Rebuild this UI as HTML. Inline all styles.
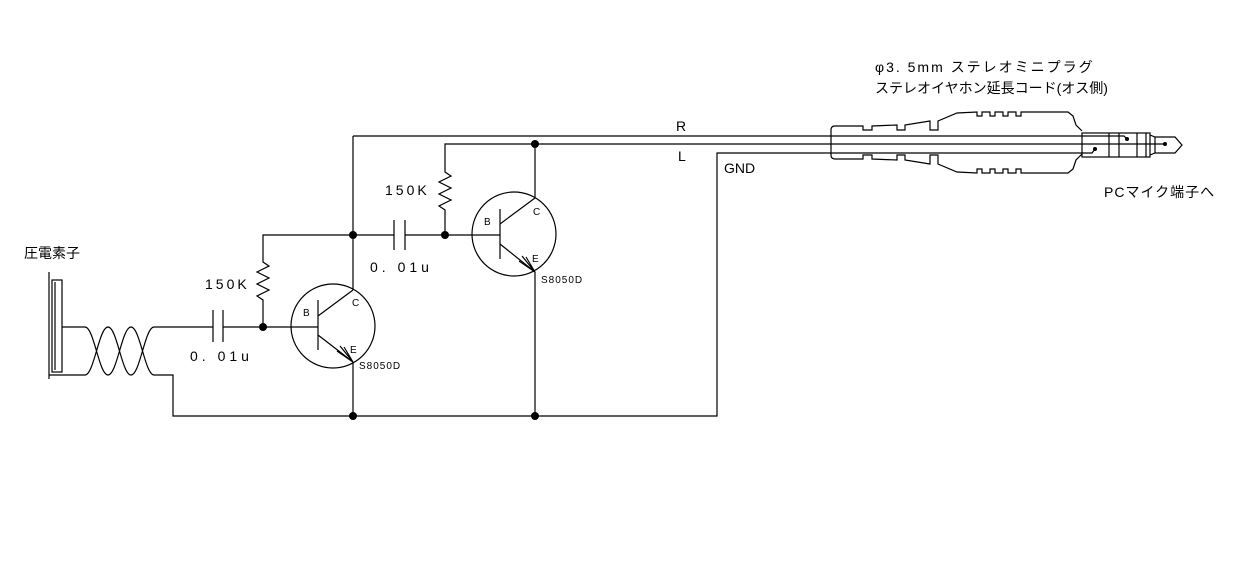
<!DOCTYPE html>
<html><head><meta charset="utf-8"><style>
html,body{margin:0;padding:0;background:#fff;}
svg{display:block;}
text{font-family:"Liberation Sans","Noto Sans CJK JP",sans-serif;fill:#000;}
</style></head><body>
<svg width="1242" height="568" viewBox="0 0 1242 568" xmlns="http://www.w3.org/2000/svg">
<g fill="none" stroke="#000" stroke-width="1.2">
<!-- piezo -->
<line x1="49" y1="272" x2="49" y2="379"/>
<rect x="52" y="280" width="10" height="92"/>
<line x1="55" y1="282" x2="55" y2="370"/>
<line x1="62" y1="327" x2="85" y2="327"/>
<line x1="49" y1="375" x2="85" y2="375"/>
<!-- twisted pair -->
<path d="M85 327 C94 327 99 375 108 375 C117 375 122 327 131 327 C140 327 145 375 154 375"/>
<path d="M85 375 C94 375 99 327 108 327 C117 327 122 375 131 375 C140 375 145 327 154 327"/>
<line x1="154" y1="327" x2="213" y2="327"/>
<polyline points="154,375 173,375 173,416 717,416 717,153 1082,153"/>
<!-- cap1 -->
<line x1="213" y1="310" x2="213" y2="342"/>
<line x1="223" y1="310" x2="223" y2="342"/>
<line x1="223" y1="327" x2="318" y2="327"/>
<!-- resistor1 -->
<polyline points="263,327 263,300 257,296 269,290 257,284 269,278 257,272 269,266 263,262 263,235 353,235"/>
<!-- transistor1 -->
<circle cx="333" cy="326" r="42"/>
<line x1="318" y1="300" x2="318" y2="350"/>
<line x1="318" y1="316" x2="353" y2="290"/>
<line x1="318" y1="335" x2="353" y2="362"/>
<line x1="353" y1="290" x2="353" y2="136"/>
<line x1="353" y1="362" x2="353" y2="416"/>
<path d="M353 362 L340 346 M353 362 L337 351 M353 362 L344 347"/>
<!-- cap2 -->
<line x1="353" y1="235" x2="394" y2="235"/>
<line x1="394" y1="220" x2="394" y2="250"/>
<line x1="405" y1="220" x2="405" y2="250"/>
<line x1="405" y1="235" x2="500" y2="235"/>
<!-- resistor2 -->
<polyline points="445,235 445,210 439,206 451,200 439,194 451,188 439,182 451,176 445,172 445,144 1082,144"/>
<!-- transistor2 -->
<circle cx="514" cy="234" r="42"/>
<line x1="500" y1="209" x2="500" y2="259"/>
<line x1="500" y1="224" x2="535" y2="198"/>
<line x1="500" y1="244" x2="535" y2="272"/>
<line x1="535" y1="198" x2="535" y2="144"/>
<line x1="535" y1="272" x2="535" y2="416"/>
<path d="M535 272 L522 256 M535 272 L519 261 M535 272 L526 257"/>
<line x1="353" y1="136" x2="1082" y2="136"/>
</g>
<g fill="#000">
<circle cx="263" cy="327" r="4"/>
<circle cx="353" cy="235" r="4"/>
<circle cx="445" cy="235" r="4"/>
<circle cx="535" cy="144" r="4"/>
<circle cx="353" cy="416" r="4"/>
<circle cx="535" cy="416" r="4"/>
</g>
<!-- plug -->
<g fill="none" stroke="#000" stroke-width="1.2">
<path d="M835 126 L863 126 L863 130 L872 130 L872 126 L897 125 L897 130 L905 130 L905 125 L930 121 L930 130 L938 130 L938 121 L957 113 L977 112 L977 116 L982 116 L982 112 L990 112 L990 116 L995 116 L995 112 L1003 112 L1003 116 L1008 116 L1008 112 L1016 112 L1016 116 L1021 116 L1021 112 L1068 112 L1073 116 L1076 125 L1082 131"/>
<path d="M835 159 L863 159 L863 155 L872 155 L872 159 L897 160 L897 155 L905 155 L905 160 L930 164 L930 155 L938 155 L938 164 L957 172 L977 173 L977 169 L982 169 L982 173 L990 173 L990 169 L995 169 L995 173 L1003 173 L1003 169 L1008 169 L1008 173 L1016 173 L1016 169 L1021 169 L1021 173 L1068 173 L1073 169 L1076 160 L1082 154"/>
<path d="M835 126 Q831 126 831 130 L831 155 Q831 159 835 159"/>
<rect x="1082" y="133" width="68" height="24"/>
<line x1="1109" y1="133" x2="1109" y2="157"/>
<line x1="1119" y1="133" x2="1119" y2="157"/>
<line x1="1137" y1="133" x2="1137" y2="157"/>
<line x1="1146" y1="133" x2="1146" y2="157"/>
<path d="M1150 135 L1155 137 L1175 137 L1182 145 L1175 153 L1155 153 L1150 155"/>
<line x1="1155" y1="137" x2="1155" y2="153"/>
<polyline points="1082,136 1124,136 1127,139"/>
<polyline points="1082,153 1092,153 1095,149"/>
<line x1="1082" y1="144" x2="1165" y2="144"/>
</g>
<g fill="#000"><circle cx="1127" cy="139" r="2"/><circle cx="1095" cy="149" r="2"/><circle cx="1165" cy="144" r="2"/></g>
<!-- labels -->
<g font-size="14">
<text x="24" y="258">圧電素子</text>
<text x="205" y="289" letter-spacing="3">150K</text>
<text x="385" y="195" letter-spacing="3">150K</text>
<text x="190" y="361" letter-spacing="4">0. 01u</text>
<text x="370" y="272" letter-spacing="4">0. 01u</text>
<text x="676" y="131">R</text>
<text x="678" y="161">L</text>
<text x="724" y="173">GND</text>
<text x="875" y="72" letter-spacing="2">φ3. 5mm ステレオミニプラグ</text>
<text x="875" y="93">ステレオイヤホン延長コード(オス側)</text>
<text x="1104" y="197" letter-spacing="1">PCマイク端子へ</text>
</g>
<g font-size="10">
<text x="303" y="316">B</text>
<text x="352" y="306">C</text>
<text x="350" y="353">E</text>
<text x="359" y="369" letter-spacing="1">S8050D</text>
<text x="484" y="225">B</text>
<text x="533" y="215">C</text>
<text x="532" y="262">E</text>
<text x="541" y="283" letter-spacing="1">S8050D</text>
</g>
</svg>
</body></html>
